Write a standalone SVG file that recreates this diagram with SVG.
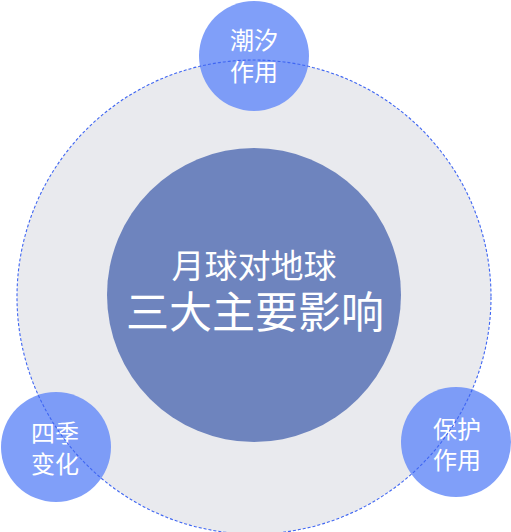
<svg xmlns="http://www.w3.org/2000/svg" width="511" height="532" viewBox="0 0 511 532">
<style>
.t{font-family:"Noto Sans CJK SC","Noto Sans",sans-serif;fill:#ffffff;text-anchor:middle}
.s{font-size:24px}
.sat{fill:#6A8EF8;fill-opacity:0.85}
</style>
<rect width="511" height="532" fill="#ffffff"/>
<g id="orbit-bg"><circle cx="254" cy="297" r="237" fill="#E9EAEE"/></g>
<g id="center">
<circle cx="254" cy="295" r="147" fill="#6E84BE"/>
<text class="t" x="254" y="278" font-size="33">月球对地球</text>
<text class="t" x="255" y="328" font-size="43">三大主要影响</text>
</g>
<g id="tide">
<circle class="sat" cx="254" cy="56" r="55"/>
<text class="t s" x="254" y="49">潮汐</text>
<text class="t s" x="254" y="81">作用</text>
</g>
<g id="season">
<circle class="sat" cx="56" cy="447" r="55"/>
<text class="t s" x="55" y="442">四季</text>
<text class="t s" x="55" y="473">变化</text>
</g>
<g id="protect">
<circle class="sat" cx="456" cy="442" r="55"/>
<text class="t s" x="457" y="438">保护</text>
<text class="t s" x="457" y="469">作用</text>
</g>
<g id="connectors">
<circle cx="254" cy="297" r="237" fill="none" stroke="#3F66F2" stroke-width="1.1" stroke-dasharray="3 2"/>
</g>
</svg>
